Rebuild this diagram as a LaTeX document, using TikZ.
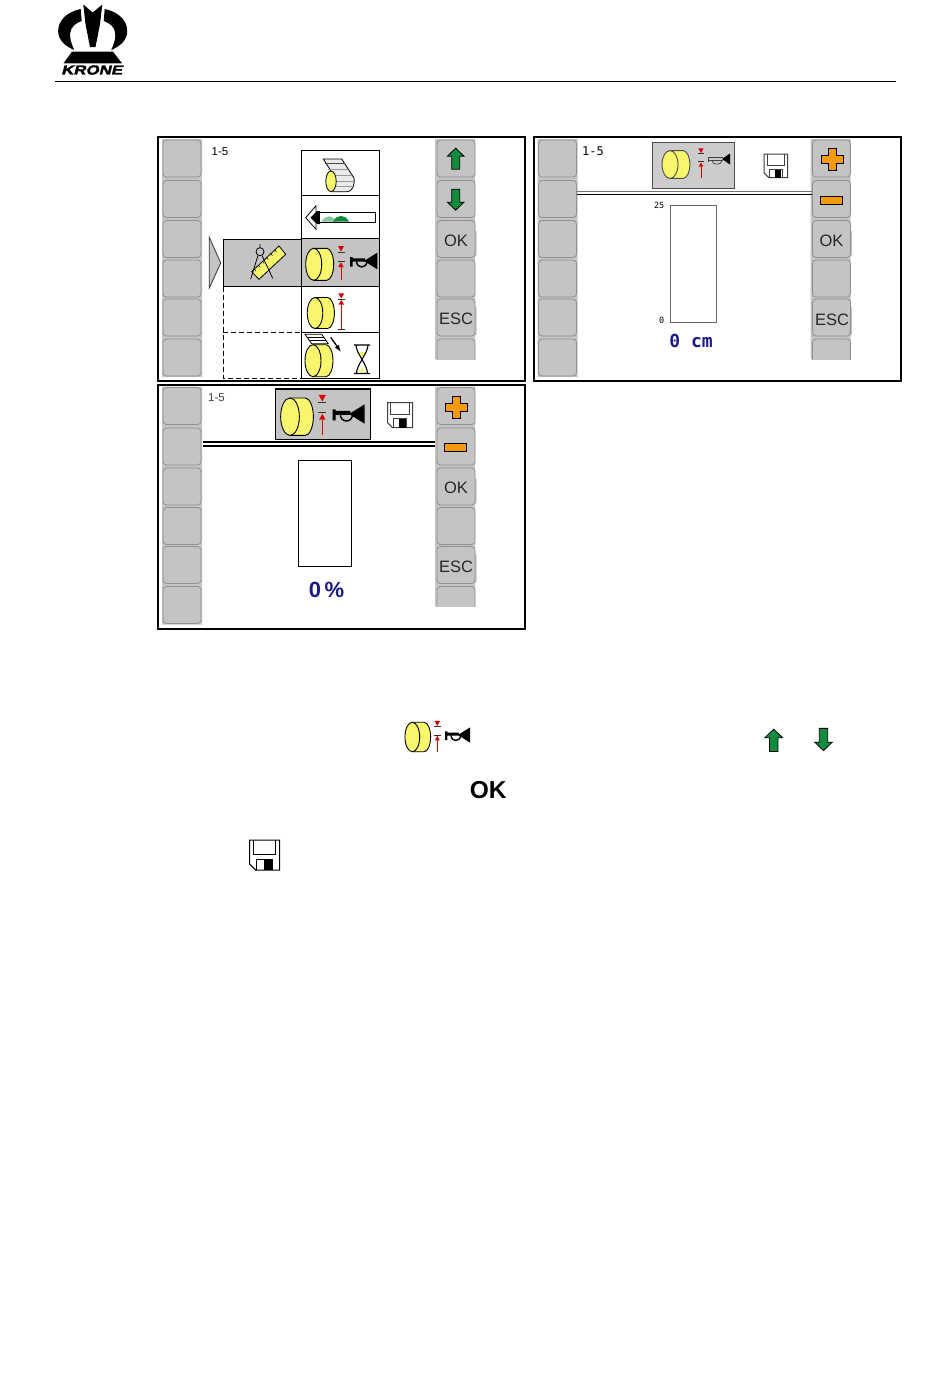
\documentclass[tikz,border=0pt]{standalone}
\usepackage{fontspec}
\usetikzlibrary{calc}
\setmainfont{Liberation Sans}
\newfontfamily\lcdfont{DejaVu Sans Mono}
\newfontfamily\logofont[FakeBold=2.5,FakeSlant=.25,FakeStretch=1.3]{Liberation Sans Bold}
\definecolor{keygray}{HTML}{C4C4C4}
\definecolor{keyedge}{HTML}{909090}
\definecolor{baleyellow}{HTML}{F8F66C}
\definecolor{softgreen}{HTML}{108C3C}
\definecolor{softorange}{HTML}{F59A0E}
\definecolor{valueblue}{HTML}{1A1A88}
\tikzset{
  softkey/.style={draw=keyedge,fill=keygray,rounded corners=3.5,line width=.8},
  keytext/.style={inner sep=0,text=black!85,font=\fontsize{16.5}{18}\selectfont},
  pagetext/.style={inner sep=0,font=\fontsize{11.5}{13}\selectfont},
  thickrule/.style={line width=1.6,black},
  cellbox/.style={draw=black,line width=.9},
  pics/panel/.style={code={
    \draw[line width=2,fill=white] (0,0) rectangle (367,244);
    \fill[keygray] (4,2) rectangle (44,240) (277,2) rectangle (317,222);
    \fill[keygray] (317,94) rectangle (318.5,119) (317,170) rectangle (318.5,198);
    \foreach \ky in {3,43.5,83.5,123,162,202} {
      \draw[softkey] (5,\ky) rectangle (43,\ky+37);
    }
    \foreach \ky in {3,43.5,83.5,123,162} {
      \draw[softkey] (279,\ky) rectangle (317,\ky+37);
    }
    \begin{scope}
      \clip (270,200) rectangle (325,222);
      \draw[softkey] (279,202) rectangle (317,239);
    \end{scope}
  }},
  pics/bale/.style={code={
    \draw[fill=baleyellow,line width=.9] (0,-16) -- (13,-16) .. controls (17,-16) and (20,-8) .. (20,0)
      .. controls (20,8) and (17,16) .. (13,16) -- (0,16) -- cycle;
    \draw[fill=baleyellow,line width=.9] (0,0) ellipse [x radius=8,y radius=16];
  }},
  pics/gapmark/.style={code={
    \fill[red!85!black] (-3,-6) -- (3,-6) -- (0,-.5) -- cycle;
    \draw[line width=.9,black!80] (-3.5,0) -- (3.5,0) (-3.5,9.3) -- (3.5,9.3);
    \fill[red!85!black] (0,10.2) -- (-2.7,15) -- (2.7,15) -- cycle;
    \draw[line width=.9,red!85!black] (0,15) -- (0,28);
  }},
  pics/horn/.style={code={
    \fill (0,-4) rectangle (2.5,5.5) (0,-2.7) rectangle (15,.7);
    \fill (14,0) -- (27.3,-8.3) -- (27.3,8.3) -- cycle;
    \draw[line width=1.4] (6.5,0) .. controls (6.5,8) and (17,8) .. (17,0);
  }},
  pics/hornthin/.style={code={
    \draw[line width=.7,black!75] (0,-2) -- (15,-2) (0,1) -- (15,1) (0,-3) -- (0,2);
    \fill (14,-.5) -- (22,-6) -- (22,5) -- cycle;
    \draw[line width=.7,black!75] (4,1) .. controls (4,6) and (14,6) .. (14,1);
  }},
  pics/floppy/.style={code={
    \draw[fill=white,line width=1] (0,0) -- (30,0) -- (30,30) -- (6,30) -- (0,24) -- cycle;
    \draw[line width=1] (4,0) -- (4,14) -- (26,14) -- (26,0);
    \draw[line width=1] (7,30) -- (7,19) -- (23,19) -- (23,30);
    \fill[black] (14,20) rectangle (22,30);
  }},
  pics/arrowup/.style={code={
    \draw[fill=softgreen,line width=.8] (0,-10.5) -- (8.3,-2.5) -- (4,-2.5) -- (4,10.5)
      -- (-4,10.5) -- (-4,-2.5) -- (-8.3,-2.5) -- cycle;
  }},
  pics/plussign/.style={code={
    \draw[fill=softorange,line width=.8] (-3.7,-11) -- (3.7,-11) -- (3.7,-3.7) -- (11,-3.7) -- (11,3.7)
      -- (3.7,3.7) -- (3.7,11) -- (-3.7,11) -- (-3.7,3.7) -- (-11,3.7) -- (-11,-3.7) -- (-3.7,-3.7) -- cycle;
  }},
  pics/minussign/.style={code={
    \draw[fill=softorange,line width=.8] (-11,-4) rectangle (11,4);
  }}
}
\begin{document}
\begin{tikzpicture}[x=1pt,y=-1pt]
  \useasboundingbox (0,0) rectangle (950,1379);
  % logo
  \fill (83.3,4.5) -- (92.7,12.5) -- (102.3,4.5) -- (100,24) -- (95.5,47) -- (90,47) -- (85.5,24) -- cycle;
  \foreach \side in {1,-1} {
    \begin{scope}[shift={(92.7,0)},xscale=\side]
      \fill (-12,9) .. controls (-30,13) and (-35,24) .. (-34.5,32) .. controls (-34,40) and (-28,46) .. (-18.5,50)
        .. controls (-22,42) and (-23,38) .. (-22.5,33) .. controls (-22,27) and (-17,23) .. (-11,21) -- cycle;
    \end{scope}
  }
  \fill (72,51.7) -- (113,51.7) -- (122,63.3) -- (63.5,63.3) -- cycle;
  \node (logotext) [inner sep=0,font=\logofont\fontsize{13}{14}\selectfont] at (91.7,70) {KRONE};
  \draw[line width=.9] (55,81.5) -- (896,81.5);

  % panels
  \pic at (158,137) {panel};
  \pic at (533.5,137) {panel};
  \pic at (158,384.5) {panel};

  % panel menu
  \node (pageA) [pagetext] at (220,151.5) {1-5};
  \pic at (455.7,158.7) {arrowup};
  \pic[rotate=180] at (455.7,199.7) {arrowup};
  \node (okA) [keytext] at (456,241) {OK};
  \node (escA) [keytext] at (456,319) {ESC};
  \fill[keygray] (223.3,239) rectangle (379.5,286.7);
  \draw[black!80,fill=keygray,line width=.8] (209.3,237.3) -- (220.7,263) -- (209.3,288) -- cycle;
  \draw[cellbox] (223.3,239) -- (301.7,239) (223.3,286.7) -- (301.7,286.7) (223.3,239) -- (223.3,286.7);
  \draw[cellbox] (301.7,150.7) rectangle (379.5,195);
  \draw[cellbox] (301.7,195) rectangle (379.5,238.7);
  \draw[cellbox] (301.7,238.7) rectangle (379.5,286.7);
  \draw[cellbox] (301.7,286.7) rectangle (379.5,332.3);
  \draw[cellbox] (301.7,332.3) rectangle (379.5,378.3);
  \draw[dash pattern=on 5pt off 3pt,line width=.8] (223.3,286.7) -- (223.3,378.3) -- (301.7,378.3) (223.3,332.3) -- (301.7,332.3);
  % compass and ruler
  \draw[fill=baleyellow,line width=.8] (251.7,271.7) -- (279,246) -- (285.7,254.3) -- (259,279.3) -- cycle;
  \foreach \t in {.1,.25,...,.9} {
    \draw[line width=.5] ($(251.7,271.7)!\t!(279,246)$) -- ++(1.6,2);
  }
  \draw[line width=.8] (260,244) -- (260,247) (260,251.7) circle (4);
  \draw[line width=.8] (258,255.5) -- (250.7,279) (262,255.5) -- (272.7,278.3);
  % menu icons
  \begin{scope}[line width=.8]
    \draw[fill=black!8] (323.3,159) -- (341.7,159) -- (354,178) .. controls (355,186) and (352,191.7) .. (347,191.7)
      -- (331,191.7) -- (331,171) -- cycle;
    \draw[line width=1.4,black!70] (325,163.5) -- (344.5,163.5);
    \draw[line width=.6,black!40] (328,169) -- (348,169) (334,175) -- (352,175) (335,181) -- (354,181) (335,186.5) -- (353,186.5);
    \draw[fill=baleyellow] (331,181.3) ellipse [x radius=5.2,y radius=10.3];
  \end{scope}
  \draw[line width=.8] (305.7,217.7) -- (316,205.7) -- (316,229.3) -- cycle;
  \fill (310.5,217.5) -- (317,211) -- (320,211) -- (320,224) -- (317,224) -- cycle;
  \draw[fill=white,line width=.8] (319.3,212.3) rectangle (375.7,222.3);
  \fill[softgreen!50] (321.5,221.5) .. controls (326,215) and (332,214) .. (336,221.5) -- cycle;
  \fill[softgreen] (333,221.5) .. controls (337,214) and (345,214) .. (349,221.5) -- cycle;
  \pic at (313.7,264.3) {bale};
  \pic at (341,252) {gapmark};
  \pic at (350,261) {horn};
  \pic[scale=.97] at (315,313) {bale};
  \fill[red!85!black] (338.3,293.3) -- (344.3,293.3) -- (341.3,298.5) -- cycle;
  \fill[red!85!black] (341.3,300) -- (338.5,304.5) -- (344,304.5) -- cycle;
  \draw[line width=.8,black!80] (338,299.3) -- (344.5,299.3) (338,329.3) -- (344.5,329.3);
  \draw[line width=.9,red!85!black] (341.3,304) -- (341.3,329);
  \draw[fill=white,line width=.8] (305,334.3) -- (321.7,334.3) -- (328.3,343.7) -- (311.7,343.7) -- cycle;
  \draw[line width=.6] (307,337.5) -- (323.5,337.5) (309,340.5) -- (326,340.5);
  \pic at (313,360.7) {bale};
  \draw[-latex,line width=1.3] (330.7,337.3) -- (340.7,351.7);
  \fill[baleyellow] (357,352) -- (367,352) -- (362,359) -- cycle (358,372) -- (366,372) -- (362,368) -- cycle;
  \draw[line width=1.1] (354,345) -- (370,345) (354,373.5) -- (370,373.5)
    (356,345) .. controls (356,353) and (367.5,365) .. (367.5,373.5)
    (368,345) .. controls (368,353) and (356.5,365) .. (356.5,373.5);

  % panel height in cm
  \node (pageB) [inner sep=0,font=\lcdfont\fontsize{12}{13}\selectfont] at (593,151) {1-5};
  \pic at (832.5,159.5) {plussign};
  \pic at (831.7,200) {minussign};
  \node (okB) [keytext] at (831.5,241) {OK};
  \node (escB) [keytext] at (832,319.5) {ESC};
  \draw[draw=black!70,fill=black!20,line width=.9] (652.7,142.3) rectangle (734.3,188.7);
  \pic[yscale=.87,color=black!70] at (670,164.5) {bale};
  \pic[scale=.87,color=black!70] at (701,153.5) {gapmark};
  \pic at (708,159.5) {hornthin};
  \pic[scale=.79,color=black!75] at (764,154) {floppy};
  \draw[line width=1.2,black!55] (576.5,191.5) -- (812,191.5);
  \draw[line width=.9] (576.5,194.4) -- (812,194.4);
  \draw[black!60,line width=.8] (670.3,205.3) rectangle (716.7,322.7);
  \node (maxB) [inner sep=0,anchor=east,font=\lcdfont\fontsize{8.5}{9}\selectfont] at (664.5,205.7) {25};
  \node (minB) [inner sep=0,anchor=east,font=\lcdfont\fontsize{8.5}{9}\selectfont] at (664.5,320) {0};
  \node (valueB) [inner sep=0,text=valueblue,font=\lcdfont\bfseries\fontsize{18}{19}\selectfont] at (691,341) {0 cm};

  % panel height in percent
  \node (pageC) [pagetext,text=black!75] at (216.5,397.5) {1-5};
  \pic at (456.5,407.5) {plussign};
  \pic at (455.5,447.5) {minussign};
  \node (okC) [keytext] at (456,488) {OK};
  \node (escC) [keytext] at (456,567) {ESC};
  \draw[fill=keygray,line width=1.6] (275.5,389) rectangle (370.5,439.5);
  \pic[scale=1.17] at (290,416.7) {bale};
  \pic[scale=1.17] at (322.3,402) {gapmark};
  \pic[scale=1.17] at (332.7,414) {horn};
  \pic[scale=.84,color=black!75] at (387.5,402.5) {floppy};
  \draw[thickrule] (202.5,442) -- (434.5,442) (202.5,445.7) -- (434.5,445.7);
  \draw[line width=.9] (298.3,460.3) rectangle (351.7,566.7);
  \node (valueC) [inner sep=0,text=valueblue,font=\bfseries\fontsize{22}{24}\selectfont] at (326.5,589.5) {0\,\%};

  % icons in the text
  \pic[scale=.92] at (412.3,737) {bale};
  \pic[scale=.92] at (437.3,726.5) {gapmark};
  \pic[scale=.92] at (445,735) {horn};
  \pic[scale=1.06] at (773.7,740.3) {arrowup};
  \pic[scale=1.06,rotate=180] at (823.5,739.5) {arrowup};
  \node (oktext) [inner sep=0,font=\bfseries\fontsize{24.5}{26}\selectfont] at (488.3,790) {OK};
  \pic at (249.7,840) {floppy};
\end{tikzpicture}
\end{document}
